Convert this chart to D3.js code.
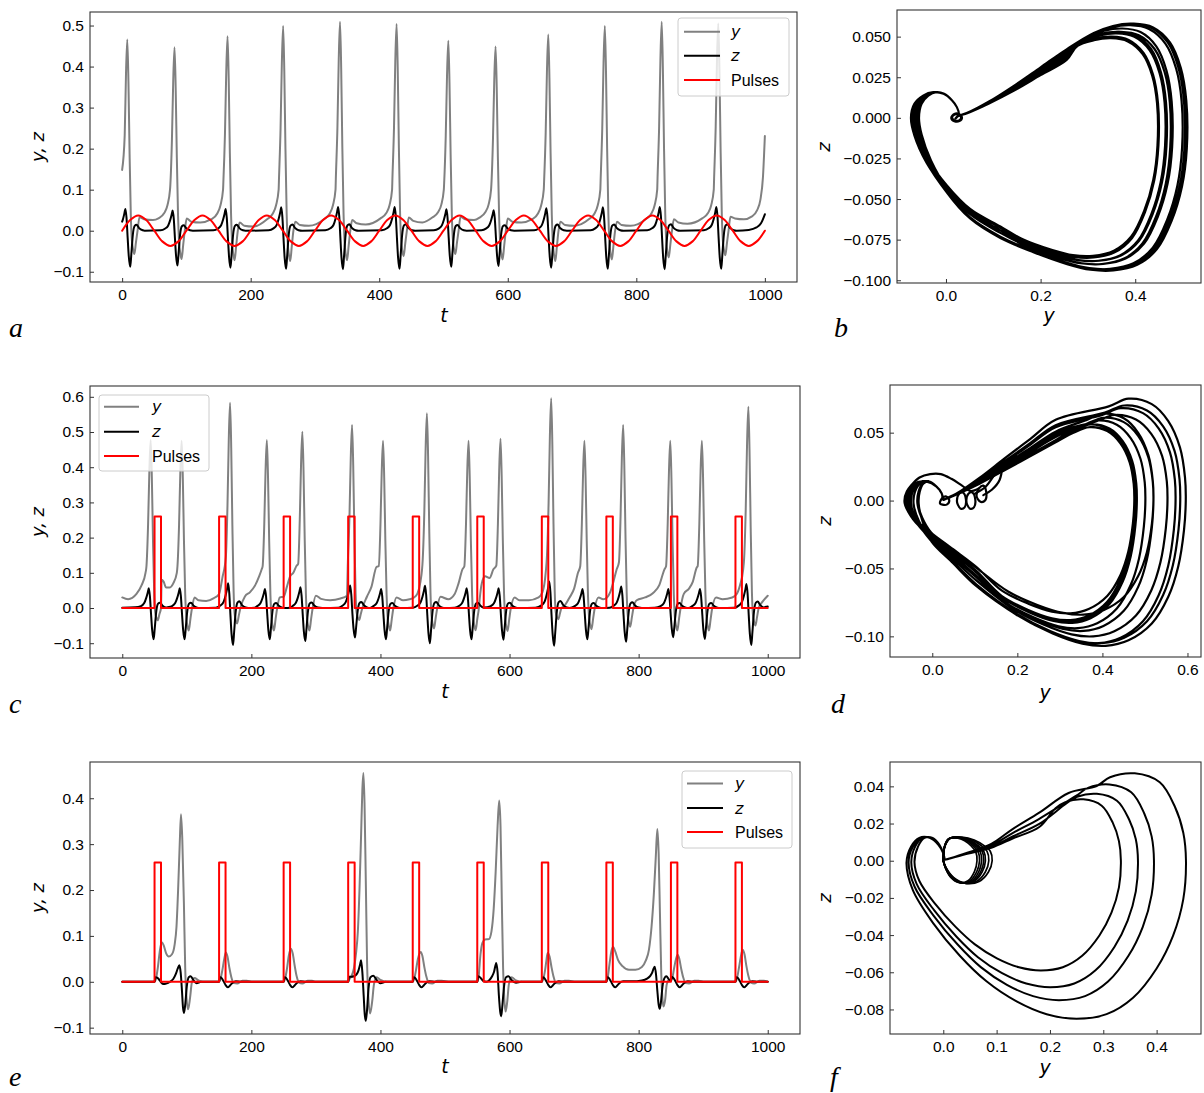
<!DOCTYPE html>
<html>
<head>
<meta charset="utf-8">
<script src="https://cdn.jsdelivr.net/npm/d3@7"></script>
<style>
html,body{margin:0;padding:0;background:#fff;}
svg{display:block;}
</style>
</head>
<body>
<svg id="fig" width="1204" height="1093"></svg>
<script>
// ======================= DATA =======================
const timeTicks = [0, 200, 400, 600, 800, 1000];
const aYTicks = [-0.1, 0, 0.1, 0.2, 0.3, 0.4, 0.5];
const cYTicks = [-0.1, 0, 0.1, 0.2, 0.3, 0.4, 0.5, 0.6];
const eYTicks = [-0.1, 0, 0.1, 0.2, 0.3, 0.4];
const bXTicks = [0, 0.2, 0.4];
const bYTicks = [-0.1, -0.075, -0.05, -0.025, 0, 0.025, 0.05];
const dXTicks = [0, 0.2, 0.4, 0.6];
const dYTicks = [-0.1, -0.05, 0, 0.05];
const fXTicks = [0, 0.1, 0.2, 0.3, 0.4];
const fYTicks = [-0.08, -0.06, -0.04, -0.02, 0, 0.02, 0.04];
const legendLabels = ['y', 'z', 'Pulses'];
const panelLetters = ['a', 'b', 'c', 'd', 'e', 'f'];

// spike profile (offset in t, fraction of peak / trough)
const yCoreDt  = [-6.5, -4, -2, 0, 1.8, 3.6, 5.5, 7, 9, 11, 13.5, 16];
const yCoreF   = [0.25, 0.5, 0.82, 1, 0.78, 0.4, 0.08, 0.35, 0.8, 1, 0.5, 0];
const yCoreRef = ['H','H','H','H','H','H','H','T','T','T','T','T'];
const zCoreDt  = [-15, -10, -7, -4.6, -2.9, -1.2, 0.6, 2.3, 4.6, 6.3, 8.6, 11.5, 14.4, 18.4, 24];
const zCoreF   = [0.1, 0.25, 0.5, 0.78, 1, 0.6, -0.2, -0.7, -1, -0.65, -0.12, 0.22, 0.27, 0.12, 0.02];

// ---- panel a (time series, periodic forcing) ----
const aSpikeT  = [8, 81.5, 164, 250.5, 339, 427, 507.5, 581, 663, 751, 839.5, 927.5];
const aSpikeH  = [0.466, 0.447, 0.474, 0.499, 0.509, 0.504, 0.463, 0.449, 0.478, 0.499, 0.509, 0.505];
const aTroughY = [-0.057, -0.069, -0.072, -0.074, -0.072, -0.062, -0.057, -0.07, -0.074, -0.07, -0.065, -0.06];
const aZPk     = [0.053, 0.049, 0.053, 0.057, 0.058, 0.058, 0.052, 0.050, 0.055, 0.057, 0.058, 0.058];
const aZTr     = [-0.088, -0.085, -0.090, -0.093, -0.094, -0.093, -0.088, -0.086, -0.090, -0.093, -0.094, -0.093];
const aYBase = [[0,0.148],
  [27,0.033],[34,0.028],[48,0.026],[56.5,0.03],[65.5,0.043],[70.5,0.062],[74.5,0.1],
  [100.5,0.03],[107.5,0.022],[121.5,0.02],[139,0.028],[148,0.042],[153,0.062],[157,0.1],
  [183,0.02],[190,0.012],[204,0.01],[225.5,0.028],[234.5,0.042],[239.5,0.062],[243.5,0.1],
  [269.5,0.022],[276.5,0.014],[290.5,0.012],[314,0.028],[323,0.042],[328,0.062],[332,0.1],
  [358,0.026],[365,0.018],[379,0.015],[402,0.03],[411,0.043],[416,0.062],[420,0.1],
  [446,0.032],[453,0.024],[467,0.02],[482.5,0.032],[491.5,0.045],[496.5,0.063],[500.5,0.1],
  [526.5,0.034],[533.5,0.028],[547.5,0.026],[556,0.032],[565,0.045],[570,0.063],[574,0.1],
  [600,0.03],[607,0.022],[621,0.02],[638,0.028],[647,0.042],[652,0.062],[656,0.1],
  [682,0.022],[689,0.014],[703,0.012],[726,0.028],[735,0.042],[740,0.062],[744,0.1],
  [770,0.022],[777,0.014],[791,0.012],[814.5,0.028],[823.5,0.042],[828.5,0.062],[832.5,0.1],
  [858.5,0.028],[865.5,0.02],[879.5,0.017],[902.5,0.03],[911.5,0.043],[916.5,0.062],[920.5,0.1],
  [946.5,0.034],[953.5,0.03],[967.5,0.028],[980,0.035],[988,0.05],[993,0.075],[997,0.13],[1000,0.231]];
const aZBase = [[0,0.022],[35,0],[60,0.001],[110,0],[142,0.001],[192,0],[228,0.001],[280,0],[316,0.001],
  [368,0],[404,0.001],[456,0],[485,0.001],[536,0],[559,0.001],[610,0],[641,0.001],[692,0],[729,0.001],
  [780,0],[817,0.001],[868,0],[905,0.001],[956,0],[975,0.002],[987,0.008],[994,0.018],[1000,0.04]];
const aForceV = [0,.026,.037,.026,0,-.026,-.037,-.026, 0,.026,.037,.026,0,-.026,-.037,-.026,
  0,.026,.037,.026,0,-.026,-.037,-.026, 0,.026,.037,.026,0,-.026,-.037,-.026,
  0,.026,.037,.026,0,-.026,-.037,-.026, 0,.026,.037,.026,0,-.026,-.037,-.026,
  0,.026,.037,.026,0,-.026,-.037,-.026, 0,.026,.037,.026,0,-.026,-.037,-.026,
  0,.026,.037,.026,0,-.026,-.037,-.026, 0,.026,.037,.026,0,-.026,-.037,-.026, 0];

// ---- panel c (time series, pulses) ----
const cSpikeT  = [44, 92, 167, 224, 279, 356, 404, 472, 536.5, 586, 664.5, 716, 776, 849, 898, 970];
const cSpikeH  = [0.477, 0.475, 0.583, 0.477, 0.501, 0.52, 0.475, 0.553, 0.475, 0.481, 0.596, 0.475, 0.52, 0.475, 0.475, 0.572];
const cTroughY = [-0.035, -0.064, -0.044, -0.064, -0.064, -0.034, -0.064, -0.058, -0.063, -0.065, -0.032, -0.06, -0.053, -0.064, -0.064, -0.05];
const cZPk     = [0.056, 0.056, 0.07, 0.054, 0.059, 0.064, 0.054, 0.063, 0.056, 0.056, 0.075, 0.054, 0.061, 0.054, 0.054, 0.068];
const cZTr     = [-0.089, -0.089, -0.105, -0.089, -0.094, -0.084, -0.089, -0.1, -0.089, -0.09, -0.107, -0.089, -0.096, -0.083, -0.088, -0.105];
const cYBase = [[0,0.03],[9,0.025],[22,0.04],[30,0.065],[36,0.1],
  [61,0.08],[64,0.075],[68,0.058],[73,0.058],[79,0.07],[84.5,0.1],
  [112,0.03],[118,0.022],[130,0.02],[142,0.028],[150,0.04],[155,0.085],
  [190,0.033],[198,0.045],[206,0.065],[212,0.09],[216,0.11],
  [244,0.03],[250,0.032],[255,0.06],[260,0.09],[265,0.1],[270,0.12],
  [300,0.035],[308,0.026],[322,0.022],[338,0.027],[348,0.035],
  [379,0.032],[386,0.06],[394,0.117],
  [425,0.03],[435,0.022],[445,0.025],[452,0.03],[457,0.04],[462,0.075],
  [493,0.032],[505,0.025],[515,0.04],[521,0.07],[527,0.11],
  [554,0.03],[557,0.07],[562,0.09],[569,0.085],[575,0.11],
  [608,0.03],[615,0.022],[630,0.022],[645,0.03],[651,0.045],[656,0.1],
  [685,0.006],[693,0.03],[700,0.055],[706,0.1],
  [738,0.03],[745,0.025],[751,0.03],[756,0.045],[761,0.075],[766,0.11],
  [797,0.022],[810,0.03],[822,0.042],[832,0.065],[840,0.11],
  [870,0.04],[878,0.055],[884,0.075],[890,0.115],
  [920,0.03],[930,0.025],[945,0.03],[952,0.04],[957,0.065],[962,0.11],
  [992,0.018],[1000,0.035]];
const cZBase = [[0,0.001],[20,0.002],[70,0.002],[120,0],[145,0.001],[195,0],[205,0.001],[252,0],[260,0.001],
  [310,0],[335,0.001],[383,0],[432,0],[450,0.001],[500,0],[515,0.001],[614,0],[640,0.001],[693,0],
  [744,0],[755,0.001],[805,0],[825,0.001],[877,0],[926,0],[948,0.001],[996,0.003],[1000,0.004]];
const pulseStarts = [50, 150, 250, 350, 450, 550, 650, 750, 850, 950];
const pulseWidth = 10;
const pulseHeight = 0.26;

// ---- panel e (time series, weak pulses) ----
const eY = [[0,0],[50,0],[52,0.005],[55,0.03],[58,0.065],[61,0.086],[64,0.08],[68,0.062],[72,0.055],[77,0.06],[81,0.08],[84,0.12],[86.5,0.2],[89,0.3],[91,0.365],[93,0.31],[95.5,0.17],[97.5,0.03],[99.5,-0.035],[102,-0.06],[105,-0.035],[108,0.0],[112,0.008],[118,0.003],[125,0],
  [150,0],[152,0.005],[155,0.025],[158,0.05],[160.5,0.064],[163,0.055],[166,0.03],[169,0.01],[173,-0.003],[178,-0.004],[186,0.002],[193,0.002],[200,0],
  [250,0],[252,0.005],[255,0.027],[258,0.057],[261,0.072],[264,0.062],[267,0.036],[270,0.013],[274,-0.002],[279,-0.004],[287,0.002],[294,0.002],[300,0],
  [350,0],[352,0.006],[355,0.012],[359,0.03],[362,0.06],[365,0.11],[367.5,0.2],[370,0.32],[372,0.42],[373.6,0.455],[375.3,0.39],[377.3,0.22],[379.3,0.04],[381.3,-0.035],[384,-0.069],[387,-0.045],[390,-0.005],[394,0.01],[400,0.004],[410,0],
  [450,0],[452,0.005],[455,0.025],[458,0.05],[462.5,0.065],[465,0.056],[468,0.032],[471,0.012],[475,-0.003],[480,-0.004],[488,0.002],[495,0.002],[505,0],
  [550,0],[552,0.01],[555,0.06],[558,0.085],[562,0.092],[568,0.093],[572,0.11],[575.5,0.16],[578.5,0.24],[581.5,0.34],[584,0.395],[586,0.34],[588,0.18],[590,0.03],[591.8,-0.035],[593.8,-0.065],[596.3,-0.045],[599,-0.005],[603,0.01],[610,0.003],[620,0],
  [650,0],[652,0.005],[655,0.025],[657,0.045],[659,0.063],[662,0.055],[665,0.032],[668,0.012],[672,-0.003],[677,-0.004],[685,0.002],[692,0.002],[700,0],
  [750,0],[752,0.008],[755,0.04],[758,0.068],[760.5,0.076],[764,0.065],[768,0.048],[775,0.034],[785,0.026],[795,0.026],[805,0.032],[811,0.046],[816,0.07],[820,0.12],[823.5,0.19],[826.5,0.27],[829,0.333],[831,0.28],[833,0.15],[835,0.02],[836.8,-0.035],[838.5,-0.054],[841,-0.04],[843.5,-0.006],[847,0.004],
  [850,0.002],[852,0.007],[855,0.03],[858,0.05],[860.5,0.059],[863,0.05],[866,0.028],[869,0.01],[873,-0.003],[878,-0.004],[886,0.002],[893,0.002],[900,0],
  [950,0],[952,0.005],[955,0.027],[958,0.052],[961,0.07],[964,0.06],[967,0.034],[970,0.013],[974,-0.002],[979,-0.004],[987,0.002],[994,0.002],[1000,0]];
const eZ = [[0,0],[50,0],[51.5,0.01],[54,0.009],[57,0.005],[60,-0.001],[64,-0.005],[68,-0.004],[74,0.0],[79,0.006],[83,0.017],[86,0.029],[88.4,0.036],[90.5,0.02],[92.5,-0.02],[94,-0.055],[95.6,-0.068],[97.5,-0.05],[100,-0.01],[103,0.01],[106,0.012],[110,0.004],[115,-0.003],[122,0],
  [150,0],[151.5,0.01],[154,0.008],[157,0.001],[160,-0.007],[163.5,-0.012],[167,-0.008],[171,-0.002],[176,0.001],[185,0],
  [250,0],[251.5,0.01],[254,0.008],[257,0.001],[260,-0.007],[263.5,-0.012],[267,-0.008],[271,-0.002],[276,0.001],[285,0],
  [350,0],[351.5,0.011],[355,0.011],[359,0.012],[363,0.016],[366,0.025],[368.3,0.037],[370,0.047],[372,0.02],[374,-0.03],[375.6,-0.07],[377.3,-0.085],[379.3,-0.06],[381.5,-0.015],[384.5,0.01],[389,0.013],[394,0.004],[400,-0.003],[408,0],
  [450,0],[451.5,0.01],[454,0.008],[457,0.001],[460,-0.007],[463.5,-0.012],[467,-0.008],[471,-0.002],[476,0.001],[485,0],
  [550,0],[551.5,0.012],[555,0.009],[559,0.002],[564,0.0],[569,0.004],[573,0.012],[576,0.022],[579.4,0.041],[581.5,0.02],[583.5,-0.03],[585.5,-0.065],[587.1,-0.075],[589,-0.05],[591.5,-0.01],[594.5,0.01],[598.5,0.012],[603,0.004],[610,-0.002],[618,0],
  [650,0],[651.5,0.01],[654,0.008],[657,0.001],[660,-0.007],[663.5,-0.012],[667,-0.008],[671,-0.002],[676,0.001],[685,0],
  [750,0],[751.5,0.01],[754,0.008],[757,0.001],[760,-0.007],[763.5,-0.012],[767,-0.008],[771,-0.002],[776,0.001],[790,0.001],[805,0.003],[813,0.007],[818,0.013],[821,0.02],[823,0.028],[825,0.033],[827,0.015],[829,-0.02],[831,-0.05],[832.6,-0.059],[834.5,-0.045],[837,-0.01],[840,0.008],[843,0.012],[847,0.005],
  [850,0.002],[851.5,0.011],[854,0.008],[857,0.001],[860,-0.007],[863.5,-0.012],[867,-0.008],[871,-0.002],[876,0.001],[885,0],
  [950,0],[951.5,0.01],[954,0.008],[957,0.001],[960,-0.007],[963.5,-0.012],[967,-0.008],[971,-0.002],[976,0.001],[985,0],[1000,0]];
const eSpikeH  = [0.365, 0.455, 0.395, 0.333];
const eZPk     = [0.036, 0.047, 0.041, 0.033];
const eZTr     = [-0.068, -0.085, -0.075, -0.059];
const eTroughY = [-0.06, -0.069, -0.065, -0.054];

const bDiag = [[0.025,0.001],[0.045,0.003],[0.09,0.0095],[0.145,0.019],[0.2,0.0295],[0.255,0.04]];
const bArcU = [0.62,0.70,0.78,0.86,0.93,0.975,0.998,1.0,0.98,0.937,0.876,0.794,0.695,0.60,0.503,0.363];
const bArcV = [0.90,0.975,1.0,0.96,0.80,0.53,0.18,-0.2,-0.45,-0.675,-0.86,-0.963,-1.0,-0.995,-0.958,-0.88];
const bTail = [[0.115,-0.074],[0.051,-0.062],[0.002,-0.046],[-0.04,-0.028],[-0.065,-0.011],[-0.072,0.0],[-0.065,0.0086],[-0.047,0.0137],[-0.026,0.0158],[-0.005,0.0148],[0.013,0.0107],[0.023,0.0066],[0.027,0.0025],[0.02,-0.0005]];
const bCenter = [[0.012,0.0],[0.018,0.0022],[0.027,0.0022],[0.033,0.0],[0.028,-0.0018],[0.018,-0.0018]];
const dDiag = [[0.03,0.001],[0.06,0.005],[0.11,0.013],[0.17,0.024],[0.23,0.035],[0.29,0.046]];
const dArcU = [0.696,0.774,0.866,0.931,0.977,0.997,1.0,0.993,0.97,0.931,0.866,0.774,0.684,0.592,0.475,0.343];
const dArcV = [0.925,1.0,0.947,0.78,0.522,0.226,0,-0.203,-0.455,-0.662,-0.846,-0.962,-1.0,-0.985,-0.915,-0.797];
const dTail = [[0.104,-0.056],[0.049,-0.041],[-0.005,-0.0265],[-0.045,-0.014],[-0.064,-0.002],[-0.059,0.0066],[-0.041,0.0127],[-0.013,0.014],[0.01,0.0103],[0.022,0.0054],[0.026,0.0005]];
const dHump = [[-0.05,0.011],[-0.03,0.017],[-0.005,0.0195],[0.02,0.0195],[0.045,0.016],[0.07,0.011],[0.09,0.007],[0.11,0.009]];
const dCurl1 = [[0.058,0.0],[0.063,0.005],[0.072,0.006],[0.079,0.001],[0.076,-0.005],[0.067,-0.006],[0.06,-0.003]];
const dCurl2 = [[0.08,0.0],[0.085,0.005],[0.094,0.006],[0.101,0.001],[0.098,-0.005],[0.089,-0.006],[0.082,-0.003]];
const dCurl3 = [[0.104,0.004],[0.11,0.009],[0.12,0.011],[0.127,0.006],[0.124,0.0],[0.114,-0.001],[0.107,0.001]];
const dKink  = [[0.1,0.005],[0.125,0.01],[0.15,0.02],[0.162,0.022],[0.158,0.015],[0.14,0.008],[0.12,0.004]];
const dCenter = [[0.018,-0.002],[0.024,0.002],[0.033,0.003],[0.04,0.0],[0.034,-0.003],[0.024,-0.003]];
const fDiag = [[0.003,0.0005],[0.045,0.004],[0.09,0.008],[0.13,0.0145],[0.18,0.022],[0.235,0.031]];
const fArcU = [0.632,0.687,0.789,0.892,0.954,0.989,1.0,0.989,0.947,0.879,0.782,0.673,0.549,0.426,0.302];
const fArcV = [0.855,0.955,1.0,0.897,0.62,0.32,0,-0.243,-0.474,-0.682,-0.867,-0.971,-1.0,-0.971,-0.89];
const fTail = [[0.081,-0.066],[0.031,-0.052],[-0.019,-0.034],[-0.056,-0.016],[-0.0675,-0.001],[-0.059,0.0077],[-0.044,0.0123],[-0.025,0.0123],[-0.009,0.0086],[0.0,0.004],[0.003,0.0005]];
const fRing = [[0.0,0.0],[0.003,0.008],[0.012,0.012],[0.03,0.0125],[0.05,0.011],[0.066,0.008],[0.076,0.005],[0.079,0.0],[0.073,-0.006],[0.058,-0.011],[0.037,-0.012],[0.017,-0.009],[0.005,-0.004],[0.0,0.0]];
const fRingScale = [0.8, 0.86, 0.91, 0.96, 1.0, 1.08, 1.16];

// ======================= LAYOUT / STYLE =======================
const P = {
  a:{x0:90, x1:797, y0:12, y1:282, xd:[-50,1050], yd:[-0.125,0.533]},
  b:{x0:897, x1:1201, y0:10, y1:283, xd:[-0.1035,0.539], yd:[-0.1017,0.0664]},
  c:{x0:90, x1:800, y0:386, y1:658, xd:[-50,1050], yd:[-0.142,0.6307]},
  d:{x0:890, x1:1201, y0:385, y1:657, xd:[-0.0994,0.6318], yd:[-0.1152,0.0851]},
  e:{x0:90, x1:800, y0:762, y1:1034, xd:[-50,1050], yd:[-0.1138,0.479]},
  f:{x0:890, x1:1201, y0:762, y1:1034, xd:[-0.0999,0.4832], yd:[-0.0932,0.0531]}
};
const GRAY = '#808080', BLACK = '#000000', RED = '#ff0000';
const SERIES_COLORS = [GRAY, BLACK, RED];
const TICK_FONT = '"Liberation Sans", Arial, Helvetica, sans-serif';
const MATH_FONT = '"DejaVu Sans", sans-serif';
const SPINE = '#333333';

const svg = d3.select('#fig');
svg.append('rect').attr('width',1204).attr('height',1093).attr('fill','#fff');

function setupPanel(key, xTicks, yTicks, xFmt, yFmt) {
  const p = P[key];
  const x = d3.scaleLinear().domain(p.xd).range([p.x0, p.x1]);
  const y = d3.scaleLinear().domain(p.yd).range([p.y1, p.y0]);
  const g = svg.append('g');
  const cid = 'clip-' + key;
  svg.append('clipPath').attr('id', cid).append('rect')
    .attr('x', p.x0).attr('y', p.y0).attr('width', p.x1 - p.x0).attr('height', p.y1 - p.y0);
  const plot = g.append('g').attr('clip-path', `url(#${cid})`);
  const xa = g.append('g').attr('transform', `translate(0,${p.y1})`)
    .call(d3.axisBottom(x).tickValues(xTicks).tickFormat(xFmt).tickSizeInner(-4).tickSizeOuter(0).tickPadding(6.5));
  const ya = g.append('g').attr('transform', `translate(${p.x0},0)`)
    .call(d3.axisLeft(y).tickValues(yTicks).tickFormat(yFmt).tickSizeInner(-4).tickSizeOuter(0).tickPadding(6));
  [xa, ya].forEach(ax => {
    ax.select('.domain').remove();
    ax.attr('font-family', TICK_FONT).attr('font-size', 15.5).attr('color', SPINE);
    ax.selectAll('text').attr('fill', '#000');
    ax.selectAll('line').attr('stroke-width', 1);
  });
  return {x, y, g, plot, p};
}
function frame(P0) {
  const p = P0.p;
  P0.g.append('rect').attr('x', p.x0).attr('y', p.y0).attr('width', p.x1 - p.x0).attr('height', p.y1 - p.y0)
    .attr('fill', 'none').attr('stroke', SPINE).attr('stroke-width', 1.1);
}
function drawLine(P0, pts, color, curve, width) {
  const line = d3.line().x(d => P0.x(d[0])).y(d => P0.y(d[1])).curve(curve);
  P0.plot.append('path').attr('d', line(pts)).attr('fill', 'none')
    .attr('stroke', color).attr('stroke-width', width).attr('stroke-linejoin', 'round').attr('stroke-linecap', 'round');
}
function composeSeries(spT, dts, valFn, base, tMin) {
  const pts = base.map(d => [d[0], d[1]]);
  spT.forEach((T, i) => dts.forEach((dt, k) => {
    const t = T + dt;
    if (t >= tMin && t <= 1000) pts.push([t, valFn(i, k)]);
  }));
  return pts.sort((p, q) => p[0] - q[0]);
}
function pulseTrain(starts) {
  const pts = [[0, 0]];
  starts.forEach(s => { pts.push([s, 0], [s, pulseHeight], [s + pulseWidth, pulseHeight], [s + pulseWidth, 0]); });
  pts.push([1000, 0]);
  return pts;
}
function phaseLoops(Hs, zps, zts, Ls, shape) {
  const pts = [];
  Hs.forEach((H, i) => {
    const zp = zps[i], zt = Math.abs(zts[i]);
    const arc = shape.arcU.map((u, k) => [u * H, shape.arcV[k] >= 0 ? shape.arcV[k] * zp : shape.arcV[k] * zt]);
    const y0 = arc[0][0], y1 = arc[arc.length - 1][0];
    const dz = zp / shape.zpRef;
    shape.diag.filter(d => d[0] < y0 - 0.015)
      .forEach(d => pts.push([d[0], d[1] * (1 + (dz - 1) * Math.min(1, d[0] / 0.12))]));
    arc.forEach(d => pts.push(d));
    const sz = zt / shape.zRef, sy = Ls[i] / shape.lRef, sh = shape.hRef ? H / shape.hRef : 1;
    shape.tail.filter(d => d[0] * sh < y1 - 0.01)
      .forEach(d => pts.push([d[0] < 0 ? d[0] * sy : d[0] * sh, d[1] < 0 ? d[1] * sz : d[1]]));
  });
  return pts;
}
function legend(P0, box) {
  const g = P0.g.append('g');
  g.append('rect').attr('x', box.x).attr('y', box.y).attr('width', box.w).attr('height', box.h).attr('rx', 3)
    .attr('fill', '#fff').attr('fill-opacity', 0.8).attr('stroke', '#cccccc').attr('stroke-width', 1);
  legendLabels.forEach((lab, i) => {
    g.append('line').attr('x1', box.lx0).attr('x2', box.lx1).attr('y1', box.rows[i]).attr('y2', box.rows[i])
      .attr('stroke', SERIES_COLORS[i]).attr('stroke-width', 2);
    const t = g.append('text').attr('x', box.tx).attr('y', box.rows[i]).attr('dy', '0.35em')
      .attr('font-size', 16).attr('fill', '#000').text(lab);
    if (i < 2) t.attr('font-family', MATH_FONT).attr('font-style', 'italic');
    else t.attr('font-family', TICK_FONT);
  });
}
function xLabel(txt, x, y) {
  svg.append('text').attr('x', x).attr('y', y).attr('text-anchor', 'middle')
    .attr('font-family', MATH_FONT).attr('font-style', 'italic').attr('font-size', 19).text(txt);
}
function yLabel(txt, x, y) {
  svg.append('text').attr('transform', `translate(${x},${y}) rotate(-90)`).attr('text-anchor', 'middle')
    .attr('dy', '0.35em').attr('font-family', MATH_FONT).attr('font-style', 'italic').attr('font-size', 18).text(txt);
}
function letter(txt, x, y) {
  svg.append('text').attr('x', x).attr('y', y).attr('font-family', '"Liberation Serif", "Times New Roman", serif')
    .attr('font-style', 'italic').attr('font-size', 28).text(txt);
}

const fInt = d3.format('d'), f1 = d3.format('.1f'), f2 = d3.format('.2f'), f3 = d3.format('.3f');
const LW = 2.0, PW = 2.2;

// ---------- panel a ----------
const A = setupPanel('a', timeTicks, aYTicks, fInt, f1);
const aY = composeSeries(aSpikeT, yCoreDt, (i, k) => yCoreF[k] * (yCoreRef[k] === 'H' ? aSpikeH[i] : aTroughY[i]), aYBase, 2);
const aZ = composeSeries(aSpikeT, zCoreDt, (i, k) => zCoreF[k] >= 0 ? zCoreF[k] * aZPk[i] : -zCoreF[k] * aZTr[i], aZBase, 1);
const aForceT = d3.range(0, 1000.01, 12.5);
drawLine(A, aY, GRAY, d3.curveMonotoneX, LW);
drawLine(A, aZ, BLACK, d3.curveMonotoneX, LW);
drawLine(A, aForceT.map((t, i) => [t, aForceV[i]]), RED, d3.curveCatmullRom, LW);
frame(A);
legend(A, {x:678, y:18, w:111, h:78, lx0:684, lx1:720, tx:731, rows:[31.7, 55.7, 80]});

// ---------- panel c ----------
const C = setupPanel('c', timeTicks, cYTicks, fInt, f1);
const cY = composeSeries(cSpikeT, yCoreDt, (i, k) => yCoreF[k] * (yCoreRef[k] === 'H' ? cSpikeH[i] : cTroughY[i]), cYBase, 1);
const cZ = composeSeries(cSpikeT, zCoreDt, (i, k) => zCoreF[k] >= 0 ? zCoreF[k] * cZPk[i] : -zCoreF[k] * cZTr[i], cZBase, 1);
drawLine(C, cY, GRAY, d3.curveMonotoneX, LW);
drawLine(C, cZ, BLACK, d3.curveMonotoneX, LW);
drawLine(C, pulseTrain(pulseStarts), RED, d3.curveLinear, LW);
frame(C);
legend(C, {x:99, y:395, w:110, h:76, lx0:104, lx1:139, tx:152, rows:[406.7, 431.7, 456]});

// ---------- panel e ----------
const E = setupPanel('e', timeTicks, eYTicks, fInt, f1);
drawLine(E, eY, GRAY, d3.curveMonotoneX, LW);
drawLine(E, eZ, BLACK, d3.curveMonotoneX, LW);
drawLine(E, pulseTrain(pulseStarts), RED, d3.curveLinear, LW);
frame(E);
legend(E, {x:682, y:771, w:110, h:77, lx0:687, lx1:723, tx:735, rows:[783.5, 808, 832]});

// ---------- panel b ----------
const B = setupPanel('b', bXTicks, bYTicks, f1, f3);
drawLine(B, phaseLoops(aSpikeH, aZPk, aZTr, aTroughY,
  {diag:bDiag, arcU:bArcU, arcV:bArcV, tail:bTail, zRef:0.094, lRef:-0.072, zpRef:0.055, hRef:null}), BLACK, d3.curveCatmullRom, PW);
drawLine(B, bCenter, BLACK, d3.curveCatmullRomClosed, 3);
frame(B);

// ---------- panel d ----------
const D = setupPanel('d', dXTicks, dYTicks, f1, f2);
drawLine(D, phaseLoops(cSpikeH, cZPk, cZTr, cTroughY,
  {diag:dDiag, arcU:dArcU, arcV:dArcV, tail:dTail, zRef:0.095, lRef:-0.064, zpRef:0.058, hRef:null}), BLACK, d3.curveCatmullRom, PW);
drawLine(D, dHump, BLACK, d3.curveCatmullRom, PW);
[dCurl1, dCurl2, dCurl3, dCenter].forEach(c => drawLine(D, c, BLACK, d3.curveCatmullRomClosed, PW));
drawLine(D, dKink, BLACK, d3.curveCatmullRom, PW);
frame(D);

// ---------- panel f ----------
const F = setupPanel('f', fXTicks, fYTicks, f1, f2);
fRingScale.forEach(s => drawLine(F, fRing.map(d => [d[0] * s, d[1] * (0.9 + 0.1 * s)]), BLACK, d3.curveCatmullRom, 1.7));
drawLine(F, phaseLoops(eSpikeH, eZPk, eZTr, eTroughY,
  {diag:fDiag, arcU:fArcU, arcV:fArcV, tail:fTail, zRef:0.0865, lRef:-0.0675, zpRef:0.04, hRef:0.455}), BLACK, d3.curveCatmullRom, LW);
frame(F);

// ---------- labels ----------
xLabel('t', 444, 322); yLabel('y, z', 38, 147);
xLabel('t', 445, 698); yLabel('y, z', 38, 522);
xLabel('t', 445, 1073); yLabel('y, z', 38, 898);
xLabel('y', 1049, 322); yLabel('z', 824, 147);
xLabel('y', 1045, 699); yLabel('z', 825, 521);
xLabel('y', 1045, 1074); yLabel('z', 825, 898);
letter(panelLetters[0], 9, 337); letter(panelLetters[1], 834, 337);
letter(panelLetters[2], 9, 713); letter(panelLetters[3], 831, 713);
letter(panelLetters[4], 9, 1086); letter(panelLetters[5], 830, 1086);
</script>
</body>
</html>
